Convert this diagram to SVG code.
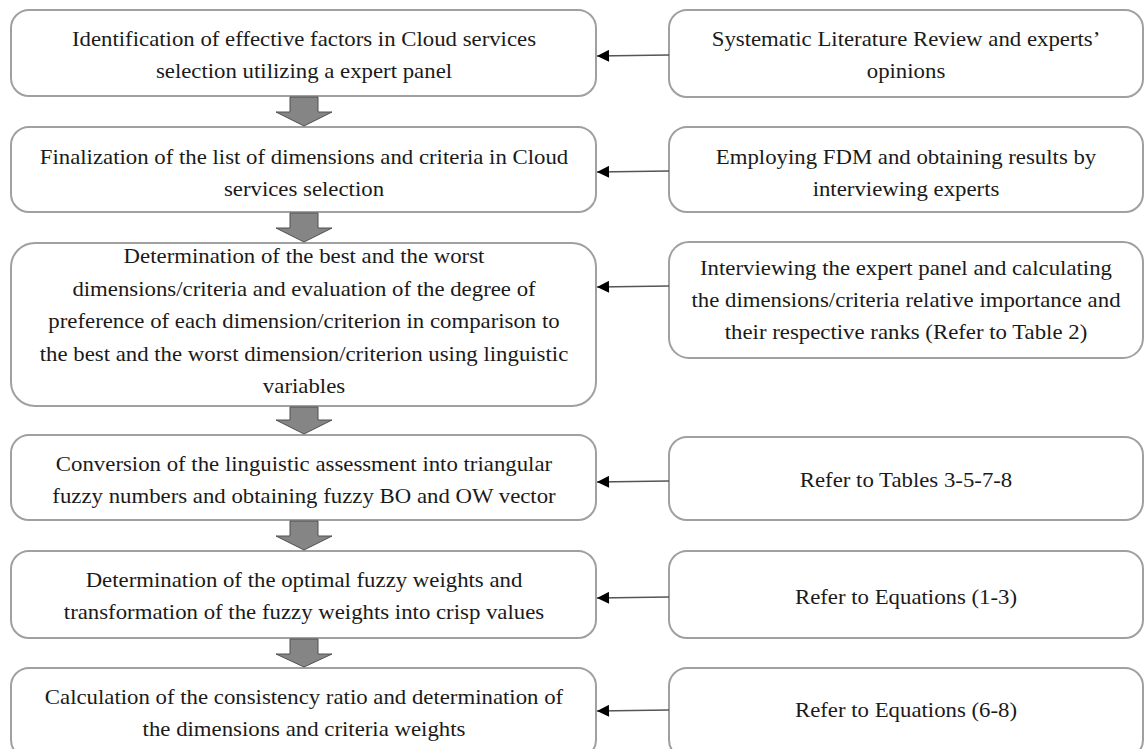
<svg xmlns="http://www.w3.org/2000/svg" width="1145" height="749" viewBox="0 0 1145 749">
<defs>
<style>
.box{fill:#fff;stroke:#a0a0a0;stroke-width:2}
.t{font-family:"Liberation Serif","Times New Roman",serif;font-size:20px;fill:#1a1a1a;text-anchor:middle}
.blk{fill:#858585;stroke:#505050;stroke-width:1}
.con{stroke:#555;stroke-width:1.6;fill:none}
</style>
<marker id="ah" viewBox="0 0 10 10" refX="10" refY="5" markerWidth="14" markerHeight="12" markerUnits="userSpaceOnUse" orient="auto">
<path d="M0,0 L10,5 L0,10 Z" fill="#000"/>
</marker>
</defs>
<g id="n1"><rect class="box" x="11" y="10" width="585" height="86" rx="18"/>
<g transform="matrix(1.14 0 0 1 304 0)"><text class="t" x="0" y="46">Identification of effective factors in Cloud services</text>
<text class="t" x="0" y="78">selection utilizing a expert panel</text></g></g>
<g id="n2"><rect class="box" x="11" y="127" width="585" height="85" rx="18"/>
<g transform="matrix(1.14 0 0 1 304 0)"><text class="t" x="0" y="164">Finalization of the list of dimensions and criteria in Cloud</text>
<text class="t" x="0" y="196">services selection</text></g></g>
<g id="n3"><rect class="box" x="11" y="243" width="585" height="163" rx="24"/>
<g transform="matrix(1.14 0 0 1 304 0)"><text class="t" x="0" y="263">Determination of the best and the worst</text>
<text class="t" x="0" y="296">dimensions/criteria and evaluation of the degree of</text>
<text class="t" x="0" y="328">preference of each dimension/criterion in comparison to</text>
<text class="t" x="0" y="361">the best and the worst dimension/criterion using linguistic</text>
<text class="t" x="0" y="393">variables</text></g></g>
<g id="n4"><rect class="box" x="11" y="435" width="585" height="85" rx="18"/>
<g transform="matrix(1.14 0 0 1 304 0)"><text class="t" x="0" y="471">Conversion of the linguistic assessment into triangular</text>
<text class="t" x="0" y="503">fuzzy numbers and obtaining fuzzy BO and OW vector</text></g></g>
<g id="n5"><rect class="box" x="11" y="551" width="585" height="87" rx="18"/>
<g transform="matrix(1.14 0 0 1 304 0)"><text class="t" x="0" y="587">Determination of the optimal fuzzy weights and</text>
<text class="t" x="0" y="619">transformation of the fuzzy weights into crisp values</text></g></g>
<g id="n6"><rect class="box" x="11" y="668" width="585" height="90" rx="18"/>
<g transform="matrix(1.14 0 0 1 304 0)"><text class="t" x="0" y="704">Calculation of the consistency ratio and determination of</text>
<text class="t" x="0" y="736">the dimensions and criteria weights</text></g></g>
<g id="r1"><rect class="box" x="669" y="10" width="474" height="87" rx="18"/>
<g transform="matrix(1.14 0 0 1 906 0)"><text class="t" x="0" y="46">Systematic Literature Review and experts’</text>
<text class="t" x="0" y="78">opinions</text></g></g>
<g id="r2"><rect class="box" x="669" y="127" width="474" height="85" rx="18"/>
<g transform="matrix(1.14 0 0 1 906 0)"><text class="t" x="0" y="164">Employing FDM and obtaining results by</text>
<text class="t" x="0" y="196">interviewing experts</text></g></g>
<g id="r3"><rect class="box" x="669" y="242" width="474" height="116" rx="20"/>
<g transform="matrix(1.14 0 0 1 906 0)"><text class="t" x="0" y="275">Interviewing the expert panel and calculating</text>
<text class="t" x="0" y="307">the dimensions/criteria relative importance and</text>
<text class="t" x="0" y="339">their respective ranks (Refer to Table 2)</text></g></g>
<g id="r4"><rect class="box" x="669" y="437" width="474" height="83" rx="18"/>
<g transform="matrix(1.14 0 0 1 906 0)"><text class="t" x="0" y="487">Refer to Tables 3-5-7-8</text></g></g>
<g id="r5"><rect class="box" x="669" y="551" width="474" height="87" rx="18"/>
<g transform="matrix(1.14 0 0 1 906 0)"><text class="t" x="0" y="604">Refer to Equations (1-3)</text></g></g>
<g id="r6"><rect class="box" x="669" y="668" width="474" height="90" rx="18"/>
<g transform="matrix(1.14 0 0 1 906 0)"><text class="t" x="0" y="717">Refer to Equations (6-8)</text></g></g>
<g id="connectors">
<path class="blk" d="M290,97 H318 V112 H332 L304,126 L276,112 H290 Z"/>
<path class="blk" d="M290,213 H318 V228 H332 L304,242 L276,228 H290 Z"/>
<path class="blk" d="M290,407 H318 V420 H332 L304,434 L276,420 H290 Z"/>
<path class="blk" d="M290,521 H318 V536 H332 L304,550 L276,536 H290 Z"/>
<path class="blk" d="M290,639 H318 V654 H332 L304,667 L276,654 H290 Z"/>
<line class="con" x1="669" y1="55" x2="597" y2="56" marker-end="url(#ah)"/>
<line class="con" x1="669" y1="171" x2="597" y2="172" marker-end="url(#ah)"/>
<line class="con" x1="669" y1="286" x2="597" y2="287" marker-end="url(#ah)"/>
<line class="con" x1="669" y1="481" x2="597" y2="482" marker-end="url(#ah)"/>
<line class="con" x1="669" y1="597" x2="597" y2="598" marker-end="url(#ah)"/>
<line class="con" x1="669" y1="710" x2="597" y2="711" marker-end="url(#ah)"/>
</g>
</svg>
